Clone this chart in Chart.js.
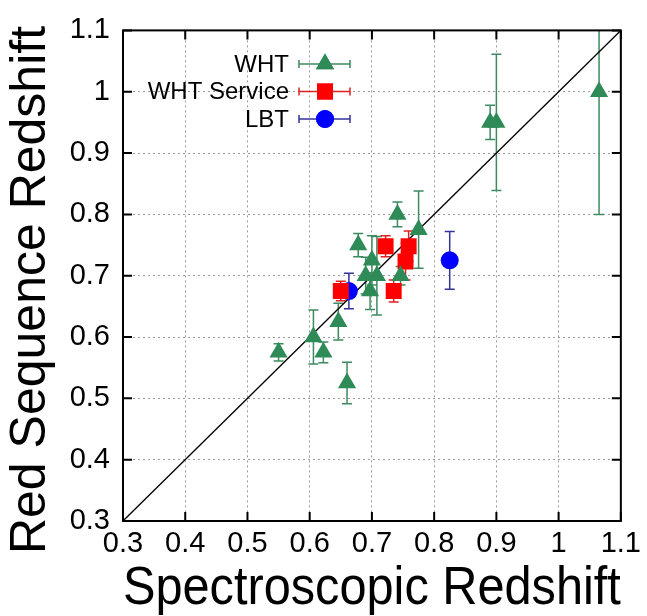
<!DOCTYPE html>
<html>
<head>
<meta charset="utf-8">
<script src="https://cdn.jsdelivr.net/npm/chart.js@4.4.1/dist/chart.umd.min.js"></script>
<style>
  html, body { margin: 0; padding: 0; background: #fff; }
  #wrap { width: 647px; height: 616px; }
</style>
</head>
<body>
<div id="wrap"><canvas id="chart" width="647" height="616"></canvas></div>
<script>
// valores
const whtX   = [0.55, 0.606, 0.622, 0.646, 0.66, 0.678, 0.69, 0.697, 0.70, 0.708, 0.741, 0.746, 0.775, 0.89, 0.90, 1.065];
const whtY   = [0.575, 0.60, 0.575, 0.625, 0.525, 0.75, 0.70, 0.675, 0.725, 0.70, 0.80, 0.70, 0.775, 0.95, 0.95, 1.0];
const whtErr = [0.014, 0.044, 0.017, 0.03, 0.034, 0.019, 0.03, 0.03, 0.04, 0.064, 0.02, 0.015, 0.063, 0.028, 0.111, 0.2];

const svcX   = [0.65, 0.722, 0.759, 0.754, 0.735];
const svcY   = [0.675, 0.748, 0.748, 0.723, 0.675];
const svcErr = [0.016, 0.017, 0.025, 0.03, 0.018];

const lbtX   = [0.663, 0.825];
const lbtY   = [0.675, 0.725];
const lbtErr = [0.029, 0.047];

const diagonal = [0.3, 1.1];
const tickValues = [0.3, 0.4, 0.5, 0.6, 0.7, 0.8, 0.9, 1.0, 1.1];
const yTitle = 'Red Sequence Redshift';

const FONT = "'Liberation Sans', Arial, Helvetica, sans-serif";

const series = [
    { label: 'WHT', xs: whtX, ys: whtY, errs: whtErr, color: '#2e8b57', barColor: '#3d8a62', style: 'triangle', radius: 10.5 },
    { label: 'WHT Service', xs: svcX, ys: svcY, errs: svcErr, color: '#ff0000', barColor: '#e02020', style: 'rect', radius: 11.3 },
    { label: 'LBT', xs: lbtX, ys: lbtY, errs: lbtErr, color: '#0000ff', barColor: '#33339a', style: 'circle', radius: 9 }
];

function toPoints(xs, ys) {
    return xs.map((x, i) => ({ x: x, y: ys[i] }));
}

// barras de erro verticais (por baixo dos marcadores)
const errorBars = {
    id: 'errorBars',
    beforeDatasetsDraw(chart) {
        const { ctx, scales: { x, y } } = chart;
        ctx.save();
        ctx.beginPath();
        ctx.rect(chart.chartArea.left, chart.chartArea.top, chart.chartArea.width, chart.chartArea.height);
        ctx.clip();
        ctx.lineWidth = 1.5;
        series.forEach(s => {
            ctx.strokeStyle = s.barColor;
            s.xs.forEach((xv, i) => {
                const px = x.getPixelForValue(xv);
                const top = y.getPixelForValue(s.ys[i] + s.errs[i]);
                const bot = y.getPixelForValue(s.ys[i] - s.errs[i]);
                ctx.beginPath();
                ctx.moveTo(px, top); ctx.lineTo(px, bot);
                ctx.moveTo(px - 5, top); ctx.lineTo(px + 5, top);
                ctx.moveTo(px - 5, bot); ctx.lineTo(px + 5, bot);
                ctx.stroke();
            });
        });
        ctx.restore();
    }
};

// moldura, ticks internos, título do eixo y e legenda
const frameAndLegend = {
    id: 'frameAndLegend',
    afterDraw(chart) {
        const { ctx, chartArea: a, scales: { x, y } } = chart;
        ctx.save();
        ctx.strokeStyle = '#000';
        ctx.lineWidth = 2;
        ctx.strokeRect(a.left, a.top, a.width, a.height);
        ctx.beginPath();
        tickValues.forEach(v => {
            const px = x.getPixelForValue(v);
            ctx.moveTo(px, a.bottom); ctx.lineTo(px, a.bottom - 9);
            ctx.moveTo(px, a.top); ctx.lineTo(px, a.top + 9);
            const py = y.getPixelForValue(v);
            ctx.moveTo(a.left, py); ctx.lineTo(a.left + 9, py);
            ctx.moveTo(a.right, py); ctx.lineTo(a.right - 9, py);
        });
        ctx.stroke();

        // título do eixo y (centrado na figura, como no original)
        ctx.save();
        ctx.translate(31, 290);
        ctx.rotate(-Math.PI / 2);
        ctx.font = '50px ' + FONT;
        ctx.fillStyle = '#000';
        ctx.textAlign = 'center';
        ctx.textBaseline = 'middle';
        ctx.fillText(yTitle, 0, 0);
        ctx.restore();

        // legenda
        ctx.font = '24px ' + FONT;
        ctx.textAlign = 'right';
        ctx.textBaseline = 'middle';
        series.forEach((s, i) => {
            const ly = 64 + i * 27.5;
            ctx.fillStyle = '#000';
            ctx.fillText(s.label, 289, ly + 1);
            ctx.strokeStyle = s.barColor;
            ctx.lineWidth = 1.5;
            ctx.beginPath();
            ctx.moveTo(299, ly); ctx.lineTo(350, ly);
            ctx.moveTo(299, ly - 4); ctx.lineTo(299, ly + 4);
            ctx.moveTo(350, ly - 4); ctx.lineTo(350, ly + 4);
            ctx.stroke();
            ctx.fillStyle = s.color;
            Chart.helpers.drawPoint(ctx, { pointStyle: s.style, radius: s.radius, rotation: 0, borderWidth: 0 }, 325, ly);
            ctx.fill();
        });
        ctx.restore();
    }
};

const datasets = series.map(s => ({
    type: 'scatter',
    label: s.label,
    data: toPoints(s.xs, s.ys),
    pointStyle: s.style,
    pointRadius: s.radius,
    pointHoverRadius: s.radius,
    backgroundColor: s.color,
    borderColor: s.color,
    borderWidth: 0,
    order: 1
}));

datasets.push({
    type: 'line',
    label: 'y = x',
    data: toPoints(diagonal, diagonal),
    borderColor: '#000',
    borderWidth: 1.3,
    pointRadius: 0,
    fill: false,
    order: 5
});

function axis(titleText, isY) {
    return {
        type: 'linear',
        min: 0.3,
        max: 1.1,
        afterBuildTicks: s => { s.ticks = tickValues.map(v => ({ value: v })); },
        afterFit: s => { if (isY) s.width = 123; else s.height = 95; },
        grid: { color: '#9a9a9a', lineWidth: 1, drawTicks: false },
        border: { display: false, dash: [2, 3] },
        ticks: {
            color: '#000',
            padding: isY ? 13 : 6,
            font: { family: FONT, size: 29 },
            callback: v => String(+v.toFixed(1))
        },
        title: {
            display: !isY,
            text: titleText,
            color: '#000',
            font: { family: FONT, size: 53, lineHeight: 1.0 },
            padding: { top: 0, bottom: 0 }
        }
    };
}

new Chart(document.getElementById('chart').getContext('2d'), {
    data: { datasets: datasets },
    options: {
        responsive: false,
        animation: false,
        layout: { padding: { left: 0, top: 22, right: 22, bottom: 0 } },
        plugins: { legend: { display: false }, tooltip: { enabled: false } },
        scales: {
            x: axis('Spectroscopic Redshift', false),
            y: axis(yTitle, true)
        }
    },
    plugins: [errorBars, frameAndLegend]
});
</script>
</body>
</html>
